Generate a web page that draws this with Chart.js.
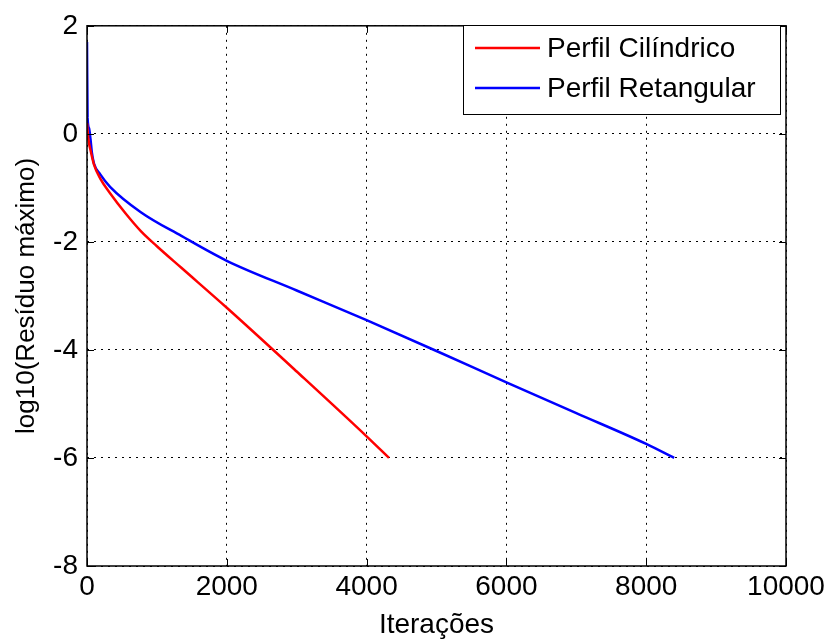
<!DOCTYPE html>
<html>
<head>
<meta charset="utf-8">
<script src="https://cdn.jsdelivr.net/npm/chart.js@4"></script>
<style>
  body { margin: 0; background: #fff; }
  #wrap { width: 830px; height: 642px; }
</style>
</head>
<body>
<div id="wrap"><canvas id="chart" width="830" height="642"></canvas></div>
<script>
// values
const seriesNames = ['Perfil Cilíndrico', 'Perfil Retangular'];
const cilIter = [0, 20, 50, 100, 190, 330, 550, 770, 1000, 1350, 2000, 3000, 4000, 4320];
const cilRes = [0.2, -0.1, -0.3, -0.57, -0.83, -1.1, -1.47, -1.8, -2.08, -2.48, -3.22, -4.4, -5.6, -6.0];
const retIter = [0, 8, 30, 50, 70, 100, 190, 330, 770, 1350, 2000, 3000, 4000, 5000, 6000, 7000, 8000, 8400];
const retRes = [1.7, 0.3, 0.1, -0.1, -0.35, -0.55, -0.75, -0.98, -1.45, -1.89, -2.35, -2.9, -3.45, -4.02, -4.6, -5.17, -5.74, -6.0];
const xTicks = [0, 2000, 4000, 6000, 8000, 10000];
const yTicks = [2, 0, -2, -4, -6, -8];

const FONT = 'Liberation Sans, Arial, sans-serif';

const toPts = (xs, ys) => xs.map((x, i) => ({ x: x, y: ys[i] }));

// plot box, inner tick marks, legend box (matlab look)
const boxPlugin = {
  id: 'boxPlugin',
  afterDraw(chart) {
    const { ctx, chartArea: a } = chart;
    const sx = chart.scales.x, sy = chart.scales.y;
    ctx.save();
    ctx.strokeStyle = '#000';
    ctx.lineWidth = 1.5;
    ctx.strokeRect(a.left, a.top, a.right - a.left, a.bottom - a.top);

    ctx.lineWidth = 1;
    ctx.beginPath();
    xTicks.forEach(v => {
      const px = Math.round(sx.getPixelForValue(v)) + 0.5;
      ctx.moveTo(px, a.bottom); ctx.lineTo(px, a.bottom - 7);
      ctx.moveTo(px, a.top); ctx.lineTo(px, a.top + 7);
    });
    yTicks.forEach(v => {
      const py = Math.round(sy.getPixelForValue(v)) + 0.5;
      ctx.moveTo(a.left, py); ctx.lineTo(a.left + 7, py);
      ctx.moveTo(a.right, py); ctx.lineTo(a.right - 7, py);
    });
    ctx.stroke();

    // legend
    const bx = 463, by = 25, bw = 317, bh = 89;
    ctx.fillStyle = '#fff';
    ctx.fillRect(bx, by, bw, bh);
    ctx.strokeStyle = '#000';
    ctx.lineWidth = 1;
    ctx.strokeRect(bx + 0.5, by + 0.5, bw, bh);
    ctx.font = '28px ' + FONT;
    ctx.textBaseline = 'middle';
    chart.data.datasets.forEach((ds, i) => {
      const yy = by + 23 + i * 40;
      ctx.strokeStyle = ds.borderColor;
      ctx.lineWidth = 2.5;
      ctx.beginPath();
      ctx.moveTo(bx + 12, yy);
      ctx.lineTo(bx + 77, yy);
      ctx.stroke();
      ctx.fillStyle = '#000';
      ctx.fillText(ds.label, bx + 84, yy + 1);
    });
    ctx.restore();
  }
};

new Chart(document.getElementById('chart'), {
  type: 'line',
  data: {
    datasets: [
      { label: seriesNames[0], data: toPts(cilIter, cilRes), borderColor: '#ff0000', borderWidth: 2.5, pointRadius: 0, cubicInterpolationMode: 'monotone' },
      { label: seriesNames[1], data: toPts(retIter, retRes), borderColor: '#0000ff', borderWidth: 2.5, pointRadius: 0, cubicInterpolationMode: 'monotone' }
    ]
  },
  options: {
    responsive: false,
    animation: false,
    layout: { padding: { top: 24, right: 44 } },
    plugins: { legend: { display: false }, tooltip: { enabled: false } },
    scales: {
      x: {
        type: 'linear',
        min: 0, max: 10000,
        afterFit: (s) => { s.height = 76; },
        afterBuildTicks: (s) => { s.ticks = xTicks.map(v => ({ value: v })); },
        ticks: { color: '#000', font: { size: 28, family: FONT }, padding: 4, maxRotation: 0, callback: v => String(v) },
        grid: { color: '#000', lineWidth: 1, drawTicks: false },
        border: { display: false, dash: [2, 5] },
        title: { display: true, text: 'Iterações', color: '#000', font: { size: 28, family: FONT }, padding: { top: 3, bottom: 0 } }
      },
      y: {
        min: -8, max: 2,
        afterFit: (s) => { s.width = 87; },
        afterBuildTicks: (s) => { s.ticks = yTicks.map(v => ({ value: v })); },
        ticks: { color: '#000', font: { size: 28, family: FONT }, padding: 9, callback: v => String(v) },
        grid: { color: '#000', lineWidth: 1, drawTicks: false },
        border: { display: false, dash: [2, 5] },
        title: { display: true, text: 'log10(Resíduo máximo)', color: '#000', font: { size: 26, family: FONT }, padding: { top: 11, bottom: 0 } }
      }
    }
  },
  plugins: [boxPlugin]
});
</script>
</body>
</html>
